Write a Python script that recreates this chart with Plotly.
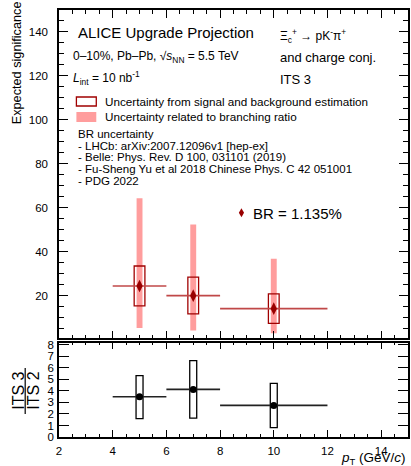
import plotly.graph_objects as go

# ---- data ----
pt = [5, 7, 10]
pt_halfwidth = [1, 1, 2]
signif = [24.4, 20.0, 14.1]
sb_low = [15.4, 11.7, 7.4]
sb_high = [33.5, 28.4, 20.8]
br_low = [5.3, 4.1, 2.9]
br_high = [64.3, 52.4, 36.8]
ratio = [3.49, 4.13, 2.74]
ratio_low = [1.6, 1.63, 0.82]
ratio_high = [5.32, 6.63, 4.65]

FONT = "Liberation Sans, Arial, Helvetica, sans-serif"
W, H = 411, 466
ML, MR, MT, MB = 59, 1, 10, 29
PW, PH = W - ML - MR, H - MT - MB


def px(x):
    return (x - ML) / PW


def py(y):
    return (H - MB - y) / PH


fig = go.Figure()

# branching-ratio uncertainty (pink bars)
fig.add_trace(go.Bar(
    x=pt, y=[h - l for h, l in zip(br_high, br_low)], base=br_low,
    width=0.22, marker=dict(color="#ff9d9d", line=dict(width=0)),
    xaxis="x", yaxis="y", showlegend=False, hoverinfo="skip"))
# signal/background uncertainty boxes
fig.add_trace(go.Bar(
    x=pt, y=[h - l for h, l in zip(sb_high, sb_low)], base=sb_low,
    width=0.4, marker=dict(color="rgba(0,0,0,0)", line=dict(width=1.3, color="#a00000")),
    xaxis="x", yaxis="y", showlegend=False, hoverinfo="skip"))
# central points with pT bin widths
fig.add_trace(go.Scatter(
    x=pt, y=signif, mode="markers",
    marker=dict(symbol="diamond-tall", size=9, color="#990000"),
    error_x=dict(type="data", array=pt_halfwidth, color="#c04848", thickness=1.6, width=0),
    xaxis="x", yaxis="y", showlegend=False))

# ratio panel
fig.add_trace(go.Bar(
    x=pt, y=[h - l for h, l in zip(ratio_high, ratio_low)], base=ratio_low,
    width=0.26, marker=dict(color="rgba(0,0,0,0)", line=dict(width=1.3, color="#000000")),
    xaxis="x2", yaxis="y2", showlegend=False, hoverinfo="skip"))
fig.add_trace(go.Scatter(
    x=pt, y=ratio, mode="markers",
    marker=dict(symbol="circle", size=7, color="#000000"),
    error_x=dict(type="data", array=pt_halfwidth, color="#222222", thickness=1.6, width=0),
    xaxis="x2", yaxis="y2", showlegend=False))

top_dom = [py(338.3), 1]
bot_dom = [0, py(342.5)]

common_ax = dict(showline=True, linewidth=1.5, linecolor="black", mirror="allticks",
                 ticks="inside", tickcolor="black", tickwidth=1, showgrid=False,
                 zeroline=False, tickfont=dict(family=FONT, size=11.5, color="black"))

fig.update_layout(
    width=W, height=H, margin=dict(l=ML, r=MR, t=MT, b=MB),
    paper_bgcolor="white", plot_bgcolor="white", barmode="overlay",
    font=dict(family=FONT, color="black"),
    xaxis=dict(common_ax, domain=[0, 1], anchor="y", range=[2, 15], dtick=2, tick0=2,
               ticklen=8, showticklabels=False,
               minor=dict(dtick=0.5, ticklen=4, ticks="inside", tickcolor="black", showgrid=False)),
    yaxis=dict(common_ax, domain=top_dom, anchor="x", range=[0.6, 150], dtick=20, tick0=0,
               ticklen=9, ticklabelstandoff=7,
               minor=dict(dtick=5, ticklen=5, ticks="inside", tickcolor="black", showgrid=False)),
    xaxis2=dict(common_ax, domain=[0, 1], anchor="y2", range=[2, 15], dtick=2, tick0=2,
                ticklen=7, ticklabelstandoff=2,
                minor=dict(dtick=0.5, ticklen=3, ticks="inside", tickcolor="black", showgrid=False)),
    yaxis2=dict(common_ax, domain=bot_dom, anchor="x2", range=[0, 8.2], dtick=1, tick0=0,
                ticklen=10, ticklabelstandoff=1),
)


def txt(x, y, s, size, color="black", anchor="left", angle=0):
    fig.add_annotation(x=px(x), y=py(y), xref="paper", yref="paper", text=s,
                       showarrow=False, xanchor=anchor, yanchor="middle", textangle=angle,
                       font=dict(family=FONT, size=size, color=color))


txt(76, 33, "ALICE Upgrade Projection", 15)
txt(71, 57, "0–10%, Pb–Pb, √<i>s</i><sub>NN</sub> = 5.5 TeV", 12)
txt(71, 78, "<i>L</i><sub>int</sub> = 10 nb<sup>-1</sup>", 12)
txt(279, 36, "Ξ<sub>c</sub><sup>+</sup> → pK<sup>-</sup>π<sup>+</sup>", 12)
txt(279, 57, "and charge conj.", 13)
txt(279, 80, "ITS 3", 13)
txt(103, 101, "Uncertainty from signal and background estimation", 11.7)
txt(103, 116, "Uncertainty related to branching ratio", 11.7)
txt(76, 134, "BR uncertainty", 11.5)
txt(76, 146, "- LHCb: arXiv:2007.12096v1 [hep-ex]", 11.5)
txt(76, 157, "- Belle: Phys. Rev. D 100, 031101 (2019)", 11.5)
txt(76, 168.5, "- Fu-Sheng Yu et al 2018 Chinese Phys. C 42 051001", 11.5)
txt(76, 180.5, "- PDG 2022", 11.5)
txt(252, 213, "BR = 1.135%", 15)

# axis titles
txt(17, 63, "Expected significance", 12.7, anchor="center", angle=-90)
txt(17.5, 391, "ITS 3", 16, anchor="center", angle=-90)
txt(32.5, 391, "ITS 2", 16, anchor="center", angle=-90)
fig.add_shape(type="line", xref="paper", yref="paper", x0=px(25), x1=px(25),
              y0=py(368), y1=py(414), line=dict(color="black", width=1.2))
txt(410, 458.5, "<i>p</i><sub>T</sub> (GeV/<i>c</i>)", 13.5, anchor="right")

# legend swatches
fig.add_shape(type="rect", xref="paper", yref="paper", x0=px(76.5), x1=px(96.5),
              y0=py(106), y1=py(97), line=dict(color="#a00000", width=1.3), fillcolor="white")
fig.add_shape(type="rect", xref="paper", yref="paper", x0=px(76.5), x1=px(96.5),
              y0=py(122), y1=py(112), line=dict(width=0), fillcolor="#ff9d9d")
fig.add_shape(type="path", xref="paper", yref="paper", xsizemode="pixel", ysizemode="pixel",
              xanchor=px(242.5), yanchor=py(212.7),
              path="M 0,-4.5 L 2.6,0 L 0,4.5 L -2.6,0 Z",
              line=dict(width=0), fillcolor="#990000")

fig.write_html("out.html", config={"displayModeBar": False},
               post_script="document.body.style.margin='0';document.body.style.padding='0';")
